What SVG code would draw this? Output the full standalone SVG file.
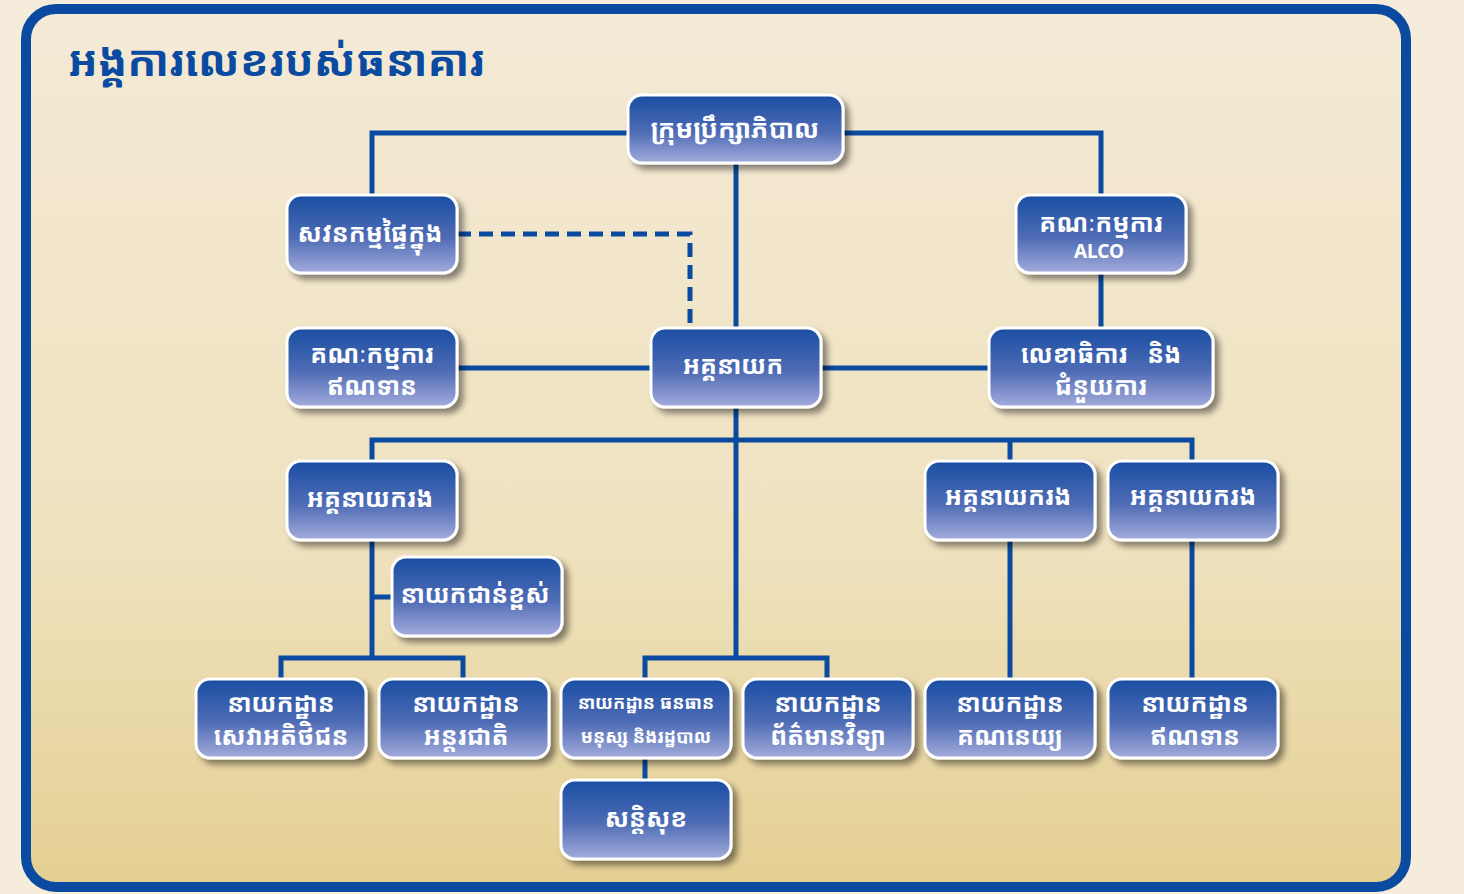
<svg xmlns="http://www.w3.org/2000/svg" width="1464" height="894" viewBox="0 0 1464 894">
<defs>
<linearGradient id="bg" x1="0" y1="0" x2="0" y2="1">
<stop offset="0" stop-color="#f4ead6"/>
<stop offset="0.6" stop-color="#efe2bf"/>
<stop offset="1" stop-color="#e4cf92"/>
</linearGradient>
<linearGradient id="box" x1="0" y1="0" x2="0" y2="1">
<stop offset="0" stop-color="#1a4ea3"/>
<stop offset="0.55" stop-color="#4f6cb5"/>
<stop offset="1" stop-color="#a4acdc"/>
</linearGradient>
<filter id="sh" x="-20%" y="-20%" width="150%" height="160%">
<feGaussianBlur in="SourceAlpha" stdDeviation="3"/>
<feOffset dx="5" dy="5" result="b"/>
<feComponentTransfer><feFuncA type="linear" slope="0.45"/></feComponentTransfer>
<feMerge><feMergeNode/><feMergeNode in="SourceGraphic"/></feMerge>
</filter>
</defs>
<style>
.n rect{fill:url(#box);stroke:#ffffff;stroke-width:3;filter:url(#sh)}
.n text{fill:#ffffff;font-family:"Noto Sans Khmer","Khmer OS","Noto Sans","DejaVu Sans",sans-serif;font-weight:bold;text-anchor:middle}
.c path{fill:none;stroke:#0a4aa0;stroke-width:5}
.c .d{stroke-dasharray:14 8}
</style>
<rect x="0" y="0" width="1464" height="894" fill="#f5ecdb"/>
<rect x="26" y="9" width="1380" height="878" rx="30" fill="url(#bg)" stroke="#0a4aa0" stroke-width="10"/>
<text x="68" y="76" font-family="Noto Sans Khmer,Khmer OS,Noto Sans,DejaVu Sans,sans-serif" font-weight="bold" font-size="43" fill="#0a4aa0">អង្គការលេខរបស់ធនាគារ</text>
<g class="c">
<path d="M372 195 V133 H1101 V195"/>
<path d="M736 163 V328"/>
<path class="d" d="M457 234 H690 V328"/>
<path d="M1101 273 V328"/>
<path d="M457 368 H989"/>
<path d="M736 407 V658"/>
<path d="M372 461 V440 H1192 V461"/>
<path d="M1010 440 V461"/>
<path d="M372 540 V658"/>
<path d="M372 597 H392"/>
<path d="M281 679 V658 H463 V679"/>
<path d="M645 679 V658 H827 V679"/>
<path d="M645 758 V780"/>
<path d="M1010 540 V679"/>
<path d="M1192 540 V679"/>
</g>
<g id="board" class="n"><rect x="628" y="95" width="215" height="68" rx="14"/><text x="735" y="138" font-size="26">ក្រុមប្រឹក្សាភិបាល</text></g>
<g id="audit" class="n"><rect x="287" y="195" width="170" height="78" rx="14"/><text x="370" y="242" font-size="25">សវនកម្មផ្ទៃក្នុង</text></g>
<g id="alco" class="n"><rect x="1016" y="195" width="170" height="78" rx="14"/><text x="1101" y="232" font-size="25">គណៈកម្មការ</text><text x="1099" y="258" font-size="19" font-family="Liberation Sans,Arial,sans-serif">ALCO</text></g>
<g id="credit-committee" class="n"><rect x="287" y="328" width="170" height="79" rx="14"/><text x="372" y="363" font-size="25">គណៈកម្មការ</text><text x="372" y="395" font-size="25">ឥណទាន</text></g>
<g id="ceo" class="n"><rect x="651" y="328" width="170" height="79" rx="14"/><text x="733" y="374" font-size="25">អគ្គនាយក</text></g>
<g id="secretary" class="n"><rect x="989" y="328" width="224" height="79" rx="14"/><text x="1101" y="363" font-size="25" xml:space="preserve">លេខាធិការ   និង</text><text x="1101" y="395" font-size="25">ជំនួយការ</text></g>
<g id="deputy1" class="n"><rect x="287" y="461" width="170" height="79" rx="14"/><text x="370" y="507" font-size="25">អគ្គនាយករង</text></g>
<g id="deputy2" class="n"><rect x="925" y="461" width="170" height="79" rx="14"/><text x="1008" y="505" font-size="25">អគ្គនាយករង</text></g>
<g id="deputy3" class="n"><rect x="1108" y="461" width="170" height="79" rx="14"/><text x="1193" y="505" font-size="25">អគ្គនាយករង</text></g>
<g id="senior-director" class="n"><rect x="392" y="557" width="170" height="79" rx="14"/><text x="475" y="603" font-size="25">នាយកជាន់ខ្ពស់</text></g>
<g id="customer-service" class="n"><rect x="196" y="679" width="170" height="79" rx="14"/><text x="281" y="712" font-size="25">នាយកដ្ឋាន</text><text x="281" y="745" font-size="25">សេវាអតិថិជន</text></g>
<g id="international" class="n"><rect x="379" y="679" width="170" height="79" rx="14"/><text x="466" y="712" font-size="25">នាយកដ្ឋាន</text><text x="466" y="745" font-size="25">អន្តរជាតិ</text></g>
<g id="hr" class="n"><rect x="561" y="679" width="170" height="79" rx="14"/><text x="646" y="709" font-size="18">នាយកដ្ឋាន ធនធាន</text><text x="646" y="743" font-size="18">មនុស្ស និងរដ្ឋបាល</text></g>
<g id="it" class="n"><rect x="743" y="679" width="170" height="79" rx="14"/><text x="828" y="712" font-size="25">នាយកដ្ឋាន</text><text x="828" y="745" font-size="25">ព័ត៌មានវិទ្យា</text></g>
<g id="accounting" class="n"><rect x="925" y="679" width="170" height="79" rx="14"/><text x="1010" y="712" font-size="25">នាយកដ្ឋាន</text><text x="1010" y="745" font-size="25">គណនេយ្យ</text></g>
<g id="credit" class="n"><rect x="1108" y="679" width="170" height="79" rx="14"/><text x="1195" y="712" font-size="25">នាយកដ្ឋាន</text><text x="1195" y="745" font-size="25">ឥណទាន</text></g>
<g id="security" class="n"><rect x="561" y="780" width="170" height="79" rx="14"/><text x="646" y="827" font-size="25">សន្តិសុខ</text></g>
</svg>
